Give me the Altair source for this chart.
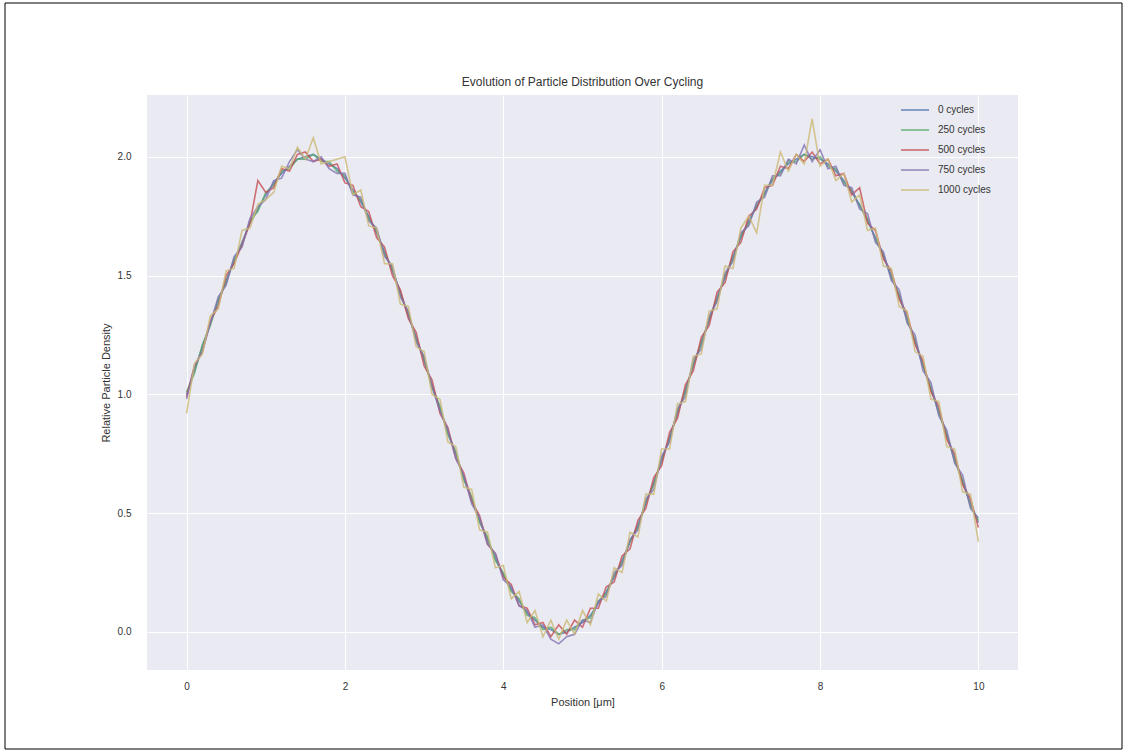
import altair as alt
import pandas as pd

# Sampling grid along the sample (micrometres)
POSITION = [round(i * 0.1, 1) for i in range(101)]

SERIES = ["0 cycles", "250 cycles", "500 cycles", "750 cycles", "1000 cycles"]
COLORS = ["#4C72B0", "#55A868", "#C44E52", "#8172B2", "#CCB974"]

TITLE = "Evolution of Particle Distribution Over Cycling"

DENSITY_0 = [
    1.00, 1.10, 1.20, 1.30, 1.39, 1.48, 1.56, 1.64, 1.72, 1.78,
    1.84, 1.89, 1.93, 1.96, 1.99, 2.00, 2.01, 1.99, 1.97, 1.95,
    1.91, 1.86, 1.81, 1.75, 1.68, 1.60, 1.52, 1.43, 1.33, 1.24,
    1.14, 1.04, 0.94, 0.84, 0.75, 0.65, 0.56, 0.47, 0.39, 0.31,
    0.24, 0.18, 0.13, 0.08, 0.05, 0.02, 0.01, -0.01, 0.00, 0.02,
    0.04, 0.07, 0.12, 0.17, 0.23, 0.30, 0.38, 0.45, 0.54, 0.63,
    0.72, 0.82, 0.92, 1.02, 1.12, 1.22, 1.31, 1.41, 1.49, 1.58,
    1.66, 1.73, 1.79, 1.85, 1.90, 1.94, 1.97, 1.99, 2.01, 2.00,
    1.99, 1.97, 1.94, 1.90, 1.85, 1.80, 1.73, 1.66, 1.58, 1.50,
    1.41, 1.32, 1.22, 1.12, 1.02, 0.93, 0.83, 0.73, 0.63, 0.54,
    0.46,
]
DENSITY_250 = [
    1.01, 1.09, 1.21, 1.29, 1.40, 1.47, 1.57, 1.63, 1.73, 1.77,
    1.85, 1.88, 1.94, 1.95, 1.99, 1.99, 2.01, 1.98, 1.98, 1.94,
    1.92, 1.85, 1.82, 1.74, 1.69, 1.59, 1.53, 1.42, 1.34, 1.23,
    1.15, 1.03, 0.95, 0.83, 0.76, 0.64, 0.57, 0.46, 0.40, 0.30,
    0.25, 0.17, 0.14, 0.07, 0.06, 0.01, 0.02, -0.01, 0.01, 0.01,
    0.05, 0.06, 0.13, 0.16, 0.24, 0.29, 0.38, 0.44, 0.55, 0.62,
    0.73, 0.81, 0.93, 1.01, 1.13, 1.21, 1.32, 1.40, 1.50, 1.57,
    1.67, 1.72, 1.80, 1.84, 1.91, 1.93, 1.98, 1.98, 2.01, 1.99,
    2.00, 1.96, 1.95, 1.89, 1.86, 1.79, 1.74, 1.65, 1.59, 1.49,
    1.42, 1.31, 1.23, 1.12, 1.03, 0.92, 0.83, 0.72, 0.64, 0.53,
    0.47,
]
DENSITY_500 = [
    0.99, 1.12, 1.18, 1.31, 1.37, 1.50, 1.55, 1.63, 1.72, 1.90,
    1.85, 1.87, 1.95, 1.94, 2.01, 2.02, 1.98, 1.99, 1.96, 1.97,
    1.89, 1.88, 1.79, 1.77, 1.66, 1.62, 1.50, 1.44, 1.32, 1.26,
    1.12, 1.06, 0.92, 0.86, 0.73, 0.67, 0.55, 0.49, 0.37, 0.33,
    0.23, 0.20, 0.11, 0.10, 0.03, 0.04, -0.02, 0.03, -0.01, 0.05,
    0.02, 0.10, 0.10, 0.19, 0.21, 0.32, 0.35, 0.47, 0.52, 0.65,
    0.70, 0.84, 0.90, 1.04, 1.10, 1.24, 1.29, 1.43, 1.47, 1.60,
    1.64, 1.75, 1.78, 1.87, 1.88, 1.96, 1.95, 2.01, 1.98, 2.02,
    1.97, 1.99, 1.92, 1.93, 1.84, 1.87, 1.72, 1.69, 1.57, 1.52,
    1.40, 1.34, 1.21, 1.14, 1.01, 0.95, 0.81, 0.75, 0.62, 0.56,
    0.44,
]
DENSITY_750 = [
    0.98, 1.12, 1.18, 1.30, 1.41, 1.46, 1.58, 1.62, 1.74, 1.79,
    1.82, 1.90, 1.91, 1.98, 2.03, 1.99, 1.98, 2.00, 1.95, 1.93,
    1.93, 1.84, 1.83, 1.73, 1.70, 1.58, 1.54, 1.41, 1.35, 1.22,
    1.16, 1.03, 0.93, 0.85, 0.73, 0.66, 0.54, 0.48, 0.37, 0.33,
    0.22, 0.19, 0.11, 0.09, 0.02, 0.03, -0.03, -0.05, -0.02, -0.01,
    0.05, 0.04, 0.13, 0.15, 0.25, 0.28, 0.39, 0.43, 0.56, 0.60,
    0.74, 0.80, 0.94, 0.99, 1.15, 1.19, 1.33, 1.39, 1.51, 1.56,
    1.68, 1.71, 1.81, 1.83, 1.92, 1.92, 1.99, 1.97, 2.05, 1.98,
    2.03, 1.95, 1.96, 1.88, 1.87, 1.78, 1.76, 1.64, 1.60, 1.48,
    1.44, 1.30, 1.25, 1.10, 1.05, 0.91, 0.85, 0.71, 0.66, 0.52,
    0.48,
]
DENSITY_1000 = [
    0.92, 1.13, 1.17, 1.33, 1.36, 1.52, 1.53, 1.69, 1.70, 1.80,
    1.82, 1.85, 1.96, 1.95, 2.04, 1.99, 2.08, 1.97, 1.98, 1.99,
    2.00, 1.84, 1.86, 1.71, 1.70, 1.55, 1.55, 1.38, 1.37, 1.20,
    1.18, 1.00, 0.98, 0.80, 0.78, 0.61, 0.60, 0.43, 0.42, 0.27,
    0.28, 0.14, 0.17, 0.04, 0.09, -0.02, 0.05, -0.03, 0.05, -0.01,
    0.09, 0.03, 0.16, 0.13, 0.27, 0.25, 0.42, 0.40, 0.58, 0.58,
    0.77, 0.77, 0.96, 0.97, 1.16, 1.17, 1.35, 1.36, 1.54, 1.53,
    1.70, 1.75, 1.68, 1.88, 1.88, 2.02, 1.94, 2.01, 1.97, 2.16,
    1.96, 1.99, 1.90, 1.93, 1.81, 1.84, 1.69, 1.70, 1.54, 1.53,
    1.37, 1.35, 1.18, 1.16, 0.98, 0.97, 0.78, 0.77, 0.59, 0.58,
    0.38,
]

ALL_DENSITIES = [DENSITY_0, DENSITY_250, DENSITY_500, DENSITY_750, DENSITY_1000]

rows = []
for k, (name, values) in enumerate(zip(SERIES, ALL_DENSITIES)):
    assert len(values) == len(POSITION), name
    for x, y in zip(POSITION, values):
        rows.append({"position": x, "density": y, "series": name, "rank": k})
df = pd.DataFrame(rows)

TEXT = "#333333"
FONT = "Liberation Sans"
PLOT_W, PLOT_H = 871, 575

lines = (
    alt.Chart(df)
    .mark_line(strokeWidth=1.6, opacity=0.8)
    .encode(
        x=alt.X(
            "position:Q",
            title="Position [μm]",
            scale=alt.Scale(domain=[-0.5, 10.5], nice=False, zero=False),
            axis=alt.Axis(values=[0, 2, 4, 6, 8, 10], format="d"),
        ),
        y=alt.Y(
            "density:Q",
            title="Relative Particle Density",
            scale=alt.Scale(domain=[-0.16, 2.26], nice=False, zero=False),
            axis=alt.Axis(values=[0, 0.5, 1.0, 1.5, 2.0], format=".1f"),
        ),
        color=alt.Color(
            "series:N",
            sort=SERIES,
            scale=alt.Scale(domain=SERIES, range=COLORS),
            legend=alt.Legend(
                title=None,
                orient="none",
                legendX=753,
                legendY=0,
                symbolType="stroke",
                symbolSize=784,
                symbolStrokeWidth=1.6,
                symbolOpacity=0.8,
                labelFontSize=10,
                labelFont=FONT,
                labelColor=TEXT,
                labelOffset=8,
                rowPadding=-1,
            ),
        ),
        order=alt.Order("rank:Q"),
    )
)

# chart title, centred above the plot area
title = (
    alt.Chart(alt.Data(values=[{"t": TITLE}]))
    .mark_text(
        font=FONT, fontSize=12, color=TEXT, align="center",
        baseline="alphabetic", clip=False,
    )
    .encode(text="t:N", x=alt.value(PLOT_W / 2), y=alt.value(-9))
)

# thin frame around the whole figure
frame = (
    alt.Chart(alt.Data(values=[{}]))
    .mark_rect(filled=False, stroke="#000000", strokeWidth=1, clip=False)
    .encode(
        x=alt.value(-142),
        x2=alt.value(975),
        y=alt.value(-92),
        y2=alt.value(654),
    )
)

chart = (
    alt.layer(lines, title, frame)
    .properties(
        width=PLOT_W,
        height=PLOT_H,
        autosize=alt.AutoSizeParams(type="none"),
        padding={"left": 147, "top": 95, "right": 108, "bottom": 83},
        background="white",
    )
    .configure_view(fill="#EAEAF2", stroke=None)
    .configure_axis(
        domain=False,
        ticks=False,
        grid=True,
        gridColor="#FFFFFF",
        gridWidth=1,
        labelFont=FONT,
        labelFontSize=10,
        labelColor=TEXT,
        titleFont=FONT,
        titleFontSize=11,
        titleFontWeight="normal",
        titleColor=TEXT,
    )
    .configure_axisX(labelPadding=11, titlePadding=5)
    .configure_axisY(labelPadding=16, titlePadding=6)
)

chart.save("out.html", embed_options={"renderer": "svg", "actions": False})
